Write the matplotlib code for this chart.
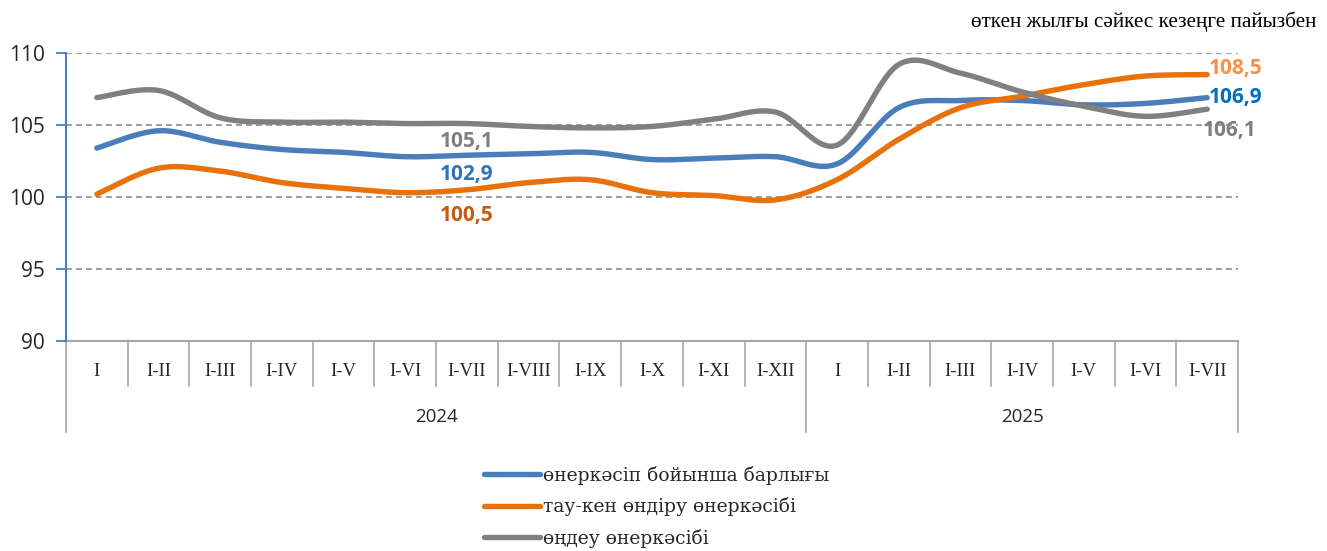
import numpy as np
import matplotlib
matplotlib.use("Agg")
import matplotlib.pyplot as plt
from matplotlib.transforms import blended_transform_factory

months_2024 = ["I", "I-II", "I-III", "I-IV", "I-V", "I-VI", "I-VII", "I-VIII", "I-IX", "I-X", "I-XI", "I-XII"]
months_2025 = ["I", "I-II", "I-III", "I-IV", "I-V", "I-VI", "I-VII"]
years = ["2024", "2025"]
categories = months_2024 + months_2025

total = [103.4, 104.6, 103.8, 103.3, 103.1, 102.8, 102.9, 103.0, 103.1, 102.6, 102.7, 102.8,
         102.3, 106.2, 106.7, 106.7, 106.4, 106.5, 106.9]
mining = [100.2, 102.0, 101.8, 101.0, 100.6, 100.3, 100.5, 101.0, 101.2, 100.3, 100.1, 99.8,
          101.2, 104.0, 106.2, 107.0, 107.8, 108.4, 108.5]
manuf = [106.9, 107.4, 105.5, 105.2, 105.2, 105.1, 105.1, 104.9, 104.8, 104.9, 105.4, 105.9,
         103.6, 109.2, 108.6, 107.3, 106.3, 105.6, 106.1]
series_names = ["өнеркәсіп бойынша барлығы", "тау-кен өндіру өнеркәсібі", "өңдеу өнеркәсібі"]
note = "өткен жылғы сәйкес кезеңге пайызбен"

C_BLUE = "#4A7EBB"
C_ORANGE = "#E8710A"
C_GRAY = "#808080"


def smooth(y, n=24):
    """Catmull-Rom rendering of a polyline (Excel-style smoothed line)."""
    y = np.asarray(y, float)
    x = np.arange(len(y), dtype=float)
    P = np.column_stack([x, y])
    P = np.vstack([P[0], P, P[-1]])
    out = []
    t = np.linspace(0, 1, n, endpoint=False)
    for i in range(1, len(P) - 2):
        p0, p1, p2, p3 = P[i - 1], P[i], P[i + 1], P[i + 2]
        b1 = p1 + (p2 - p0) / 6.0
        b2 = p2 - (p3 - p1) / 6.0
        seg = ((1 - t) ** 3)[:, None] * p1 + (3 * (1 - t) ** 2 * t)[:, None] * b1 \
            + (3 * (1 - t) * t ** 2)[:, None] * b2 + (t ** 3)[:, None] * p2
        out.append(seg)
    out.append(P[-2][None, :])
    out = np.vstack(out)
    return out[:, 0], out[:, 1]


def fmt(v):
    return f"{v:.1f}".replace(".", ",")


W, H = 1327, 551
fig = plt.figure(figsize=(W / 100, H / 100), dpi=100)
L, R, T, B = 66, 1238, 53, 341
ax = fig.add_axes([L / W, (H - B) / H, (R - L) / W, (B - T) / H])

n = len(categories)
ax.set_xlim(-0.5, n - 0.5)
ax.set_ylim(90, 110)

for yv in [95, 100, 105, 110]:
    ax.axhline(yv, color="#8C8C8C", lw=1.2, ls=(0, (3.5, 2.5)), zorder=1)

lines = []
for vals, c in [(total, C_BLUE), (mining, C_ORANGE), (manuf, C_GRAY)]:
    xs, ys = smooth(vals)
    ln, = ax.plot(xs, ys, color=c, lw=3.9, solid_capstyle="round", zorder=3)
    lines.append(ln)

# spines / axis
for s in ["top", "right", "bottom"]:
    ax.spines[s].set_visible(False)
ax.spines["left"].set_color(C_BLUE)
ax.spines["left"].set_linewidth(1.5)
ax.set_yticks([90, 95, 100, 105, 110])
ax.tick_params(axis="y", colors=C_BLUE, length=7, width=1.3, pad=8)
for lab in ax.get_yticklabels():
    lab.set_color("#262626")
    lab.set_fontsize(15)
    lab.set_family("Open Sans")
ax.set_xticks([])

# category axis
tr = blended_transform_factory(ax.transData, ax.transAxes)
ax.plot([-0.5, n - 0.5], [0, 0], color="#A6A6A6", lw=1.5, transform=tr, clip_on=False, zorder=2)
h = B - T
sep_bot = -(386 - B) / h
year_bot = -(432 - B) / h
boundaries = [-0.5, len(months_2024) - 0.5, n - 0.5]
for i in range(n + 1):
    xb = i - 0.5
    yb = year_bot if any(abs(xb - b) < 1e-9 for b in boundaries) else sep_bot
    ax.plot([xb, xb], [0, yb], color="#A6A6A6", lw=1.2, transform=tr, clip_on=False)
for i, c in enumerate(categories):
    ax.text(i, -(371 - B) / h, c, transform=tr, ha="center", va="center",
            fontsize=13.5, family=["Liberation Serif", "DejaVu Serif"], color="#262626")
ax.text((boundaries[0] + boundaries[1]) / 2, -(417 - B) / h, years[0], transform=tr,
        ha="center", va="center", fontsize=13.5, family="Open Sans", color="#262626")
ax.text((boundaries[1] + boundaries[2]) / 2, -(417 - B) / h, years[1], transform=tr,
        ha="center", va="center", fontsize=13.5, family="Open Sans", color="#262626")

# data labels
lf = dict(fontsize=15, fontweight="bold", family="Open Sans")
ax.text(6, manuf[6] - 1.28, fmt(manuf[6]), color="#7F7F7F", ha="center", va="center", **lf)
ax.text(6, total[6] - 1.37, fmt(total[6]), color="#2E75B6", ha="center", va="center", **lf)
ax.text(6, mining[6] - 1.75, fmt(mining[6]), color="#C55A11", ha="center", va="center", **lf)
ax.text(n - 1 + 0.03, mining[-1] + 0.45, fmt(mining[-1]), color="#F4914A", ha="left", va="center", **lf)
ax.text(n - 1 + 0.03, total[-1] + 0.0, fmt(total[-1]), color="#0070C0", ha="left", va="center", **lf)
ax.text(n - 1 - 0.07, manuf[-1] - 1.5, fmt(manuf[-1]), color="#7F7F7F", ha="left", va="center", **lf)

# note
fig.text(1316 / W, 1 - 22 / H, note, ha="right", va="center", fontsize=15.3,
         family=["Liberation Serif", "DejaVu Serif"], color="#000000")

# legend
leg = fig.legend(lines, series_names, loc="upper left", bbox_to_anchor=(484 / W, 1 - 466 / H),
                 frameon=False, handlelength=3.0, handletextpad=0.15, labelspacing=0.66,
                 borderaxespad=0, borderpad=0,
                 prop={"family": ["DejaVu Serif"], "size": 13.5})
for t in leg.get_texts():
    t.set_color("#262626")

fig.savefig("out.png", dpi=100)
